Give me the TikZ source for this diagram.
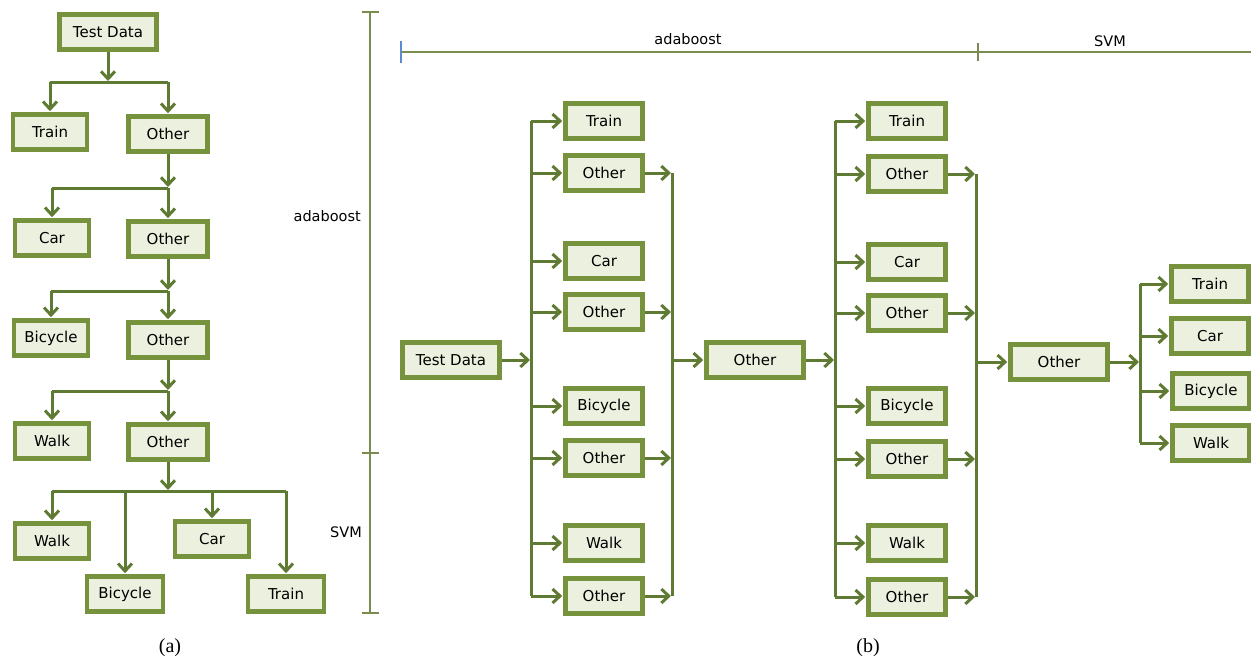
\documentclass[tikz,border=0pt]{standalone}
\usepackage{fontspec}
\setmainfont{DejaVu Sans}
\newfontfamily\capfont{Liberation Serif}
\usetikzlibrary{arrows.meta}
\definecolor{bord}{HTML}{76923C}
\definecolor{boxfill}{HTML}{EBF1DE}
\definecolor{lnk}{HTML}{5F7A32}
\definecolor{brk}{HTML}{7A8C50}
\definecolor{tickblue}{HTML}{5B8BD0}
\tikzset{
  box/.style={draw=bord, fill=boxfill, line width=4.6pt, minimum width=#1, minimum height=35pt, inner sep=0pt, font=\fontsize{15}{17}\selectfont},
  box/.default=77pt,
  conn/.style={draw=lnk, line width=3pt},
  arr/.style={conn, -{Straight Barb[length=7.5pt,width=14pt,line width=3pt]}, shorten >=1pt},
  brack/.style={draw=brk, line width=1.4pt},
  lbl/.style={font=\fontsize{14.5}{16}\selectfont, inner sep=0pt},
  captext/.style={font=\capfont\fontsize{20}{22}\selectfont, inner sep=0pt}
}
\begin{document}
\begin{tikzpicture}[x=1pt,y=-1pt]
\useasboundingbox (0,0) rectangle (1251,664);
% ---------------- panel (a) ----------------
\node[box=97pt] (aTD) at (108,32) {Test Data};
\node[box=74pt] (aTr) at (50,132) {Train};
\node[box=79pt] (aO1) at (168,134) {Other};
\node[box=74pt] (aCar) at (52,238) {Car};
\node[box=79pt] (aO2) at (168,239) {Other};
\node[box=74pt] (aBi) at (51,338) {Bicycle};
\node[box=79pt] (aO3) at (168,340) {Other};
\node[box=74pt] (aWa) at (52,441) {Walk};
\node[box=79pt] (aO4) at (168,442) {Other};
\node[box=74pt] (aWa2) at (52,541) {Walk};
\node[box=76pt] (aBi2) at (125,594) {Bicycle};
\node[box=74pt] (aCar2) at (212,539) {Car};
\node[box=76pt] (aTr2) at (286,594) {Train};

\coordinate (ja1) at (108,82);
\coordinate (ja2) at (168,188);
\coordinate (ja3) at (168,291);
\coordinate (ja4) at (168,391);
\coordinate (ja5) at (168,491);

\draw[conn] (ja1 -| aTr) -- (ja1 -| aO1);
\draw[arr] (aTD.south) -- (ja1);
\draw[arr] (ja1 -| aTr) -- (aTr.north);
\draw[arr] (ja1 -| aO1) -- (aO1.north);

\draw[conn] (ja2 -| aCar) -- (ja2);
\draw[arr] (aO1.south) -- (ja2);
\draw[arr] (ja2 -| aCar) -- (aCar.north);
\draw[arr] (ja2) -- (aO2.north);

\draw[conn] (ja3 -| aBi) -- (ja3);
\draw[arr] (aO2.south) -- (ja3);
\draw[arr] (ja3 -| aBi) -- (aBi.north);
\draw[arr] (ja3) -- (aO3.north);

\draw[conn] (ja4 -| aWa) -- (ja4);
\draw[arr] (aO3.south) -- (ja4);
\draw[arr] (ja4 -| aWa) -- (aWa.north);
\draw[arr] (ja4) -- (aO4.north);

\draw[conn] (ja5 -| aWa2) -- (ja5 -| aTr2);
\draw[arr] (aO4.south) -- (ja5);
\draw[arr] (ja5 -| aWa2) -- (aWa2.north);
\draw[arr] (ja5 -| aBi2) -- (aBi2.north);
\draw[arr] (ja5 -| aCar2) -- (aCar2.north);
\draw[arr] (ja5 -| aTr2) -- (aTr2.north);

% bracket (a)
\coordinate (abT) at (370,12);
\coordinate (abM) at (370,453);
\coordinate (abB) at (370,613);
\draw[brack] (abT) -- (abB);
\draw[brack] ([xshift=-8pt]abT) -- ([xshift=9pt]abT);
\draw[brack] ([xshift=-8pt]abM) -- ([xshift=9pt]abM);
\draw[brack] ([xshift=-8pt]abB) -- ([xshift=9pt]abB);
\node[lbl, anchor=east] (lAda) at (361,216) {adaboost};
\node[lbl, anchor=east] (lSvmA) at (362,532) {SVM};

\node[captext] (capA) at (170,648) {(a)};
\node[captext] (capB) at (868,648) {(b)};

% ---------------- panel (b) ----------------
% top bracket
\coordinate (tbL) at (401,52);
\coordinate (tbM) at (978,52);
\coordinate (tbR) at (1251,52);
\draw[brack] (tbL) -- (tbR);
\draw[draw=tickblue, line width=1.4pt] ([yshift=-11pt]tbL) -- ([yshift=11pt]tbL);
\draw[brack] ([yshift=-9pt]tbM) -- ([yshift=9pt]tbM);
\node[lbl] (lAdaB) at (688,39) {adaboost};
\node[lbl] (lSvmB) at (1110,41) {SVM};

\node[box=97pt] (bTD) at (451,360) {Test Data};

% column 1
\node[box] (c1a) at (604,121) {Train};
\node[box] (c1b) at (604,173) {Other};
\node[box] (c1c) at (604,261) {Car};
\node[box] (c1d) at (604,312) {Other};
\node[box] (c1e) at (604,406) {Bicycle};
\node[box] (c1f) at (604,458) {Other};
\node[box] (c1g) at (604,543) {Walk};
\node[box] (c1h) at (604,596) {Other};

\coordinate (bus1) at (531,0);
\coordinate (bus2) at (672,0);
\draw[conn] (bus1 |- c1a) -- (bus1 |- c1h);
\draw[arr] (bTD.east) -- (bus1 |- bTD);
\foreach \n in {c1a,c1b,c1c,c1d,c1e,c1f,c1g,c1h}
  \draw[arr] (bus1 |- \n) -- (\n.west);
\draw[conn] (bus2 |- c1b) -- (bus2 |- c1h);
\foreach \n in {c1b,c1d,c1f,c1h}
  \draw[arr] (\n.east) -- (bus2 |- \n);

\node[box=97pt] (bO1) at (755,360) {Other};
\draw[arr] (bus2 |- bO1) -- (bO1.west);

% column 2
\node[box] (c2a) at (907,121) {Train};
\node[box] (c2b) at (907,174) {Other};
\node[box] (c2c) at (907,262) {Car};
\node[box] (c2d) at (907,313) {Other};
\node[box] (c2e) at (907,406) {Bicycle};
\node[box] (c2f) at (907,459) {Other};
\node[box] (c2g) at (907,543) {Walk};
\node[box] (c2h) at (907,597) {Other};

\coordinate (bus3) at (835,0);
\coordinate (bus4) at (976,0);
\draw[conn] (bus3 |- c2a) -- (bus3 |- c2h);
\draw[arr] (bO1.east) -- (bus3 |- bO1);
\foreach \n in {c2a,c2b,c2c,c2d,c2e,c2f,c2g,c2h}
  \draw[arr] (bus3 |- \n) -- (\n.west);
\draw[conn] (bus4 |- c2b) -- (bus4 |- c2h);
\foreach \n in {c2b,c2d,c2f,c2h}
  \draw[arr] (\n.east) -- (bus4 |- \n);

\node[box=97pt] (bO2) at (1059,362) {Other};
\draw[arr] (bus4 |- bO2) -- (bO2.west);

% SVM stage
\node[box] (sTr) at (1210,284) {Train};
\node[box] (sCar) at (1210,336) {Car};
\node[box] (sBi) at (1211,391) {Bicycle};
\node[box] (sWa) at (1211,443) {Walk};
\coordinate (bus5) at (1140,0);
\draw[conn] (bus5 |- sTr) -- (bus5 |- sWa);
\draw[arr] (bO2.east) -- (bus5 |- bO2);
\foreach \n in {sTr,sCar,sBi,sWa}
  \draw[arr] (bus5 |- \n) -- (\n.west);
\end{tikzpicture}
\end{document}
